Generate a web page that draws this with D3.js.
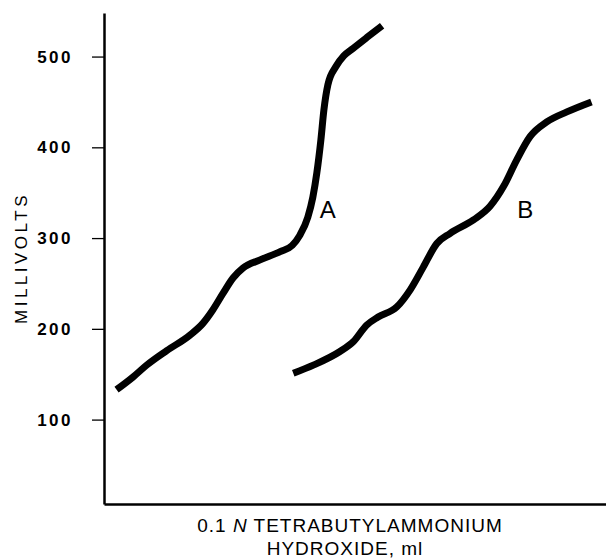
<!DOCTYPE html>
<html lang="en">
<head>
  <meta charset="utf-8">
  <title>Titration curves</title>
  <script src="https://d3js.org/d3.v7.min.js"></script>
</head>
<body style="margin: 0; background-color: white;">
  <svg id="chart" width="606" height="559"></svg>
<script>
  // ml of titrant (arbitrary scale 0-10) and millivolts
  var curveAx = [0.25, 0.58, 0.85, 1.25, 1.71, 1.97, 2.17, 2.37, 2.57, 2.77, 3.11, 3.51, 3.75, 3.90, 4.06, 4.16, 4.24, 4.32, 4.38, 4.46, 4.62, 4.78, 4.96, 5.26, 5.54];
  var curveAmv = [133, 147, 160, 176, 193, 206, 221, 239, 256, 267, 276, 285, 292, 303, 323, 345, 372, 408, 441, 469, 489, 501, 509, 522, 534];
  var curveBx = [3.77, 4.17, 4.70, 4.97, 5.23, 5.46, 5.83, 6.10, 6.36, 6.63, 6.89, 7.36, 7.69, 7.96, 8.22, 8.49, 8.82, 9.22, 9.71];
  var curveBmv = [151, 160, 175, 186, 204, 213, 224, 243, 268, 294, 305, 320, 335, 357, 386, 412, 428, 439, 450];
  var yTicks = [100, 200, 300, 400, 500];
  var labels = [{ name: "A", x: 4.30, mv: 322 }, { name: "B", x: 8.23, mv: 322 }];

  var svg = d3.select("#chart");
  var font = "'Liberation Sans', Arial, Helvetica, sans-serif";

  var x = d3.scaleLinear().domain([0, 10]).range([104, 606]);
  var y = d3.scaleLinear().domain([7, 548]).range([504, 13]);

  // y axis, ticks on the left
  var yAxis = svg.append("g")
    .attr("transform", "translate(" + x(0) + ",0)")
    .call(d3.axisLeft(y).tickValues(yTicks).tickSize(12).tickPadding(19).tickSizeOuter(0));
  yAxis.select(".domain").attr("stroke", "#000").attr("stroke-width", 2.5);
  yAxis.selectAll(".tick line").attr("stroke", "#000").attr("stroke-width", 1.3);
  yAxis.selectAll(".tick text")
    .attr("fill", "#000")
    .style("font-family", font)
    .style("font-size", "17px")
    .style("font-weight", "bold")
    .style("letter-spacing", "2.5px");

  // x axis, no ticks
  var xAxis = svg.append("g")
    .attr("transform", "translate(0," + y(7) + ")")
    .call(d3.axisBottom(x).tickValues([]).tickSizeOuter(0));
  xAxis.select(".domain").attr("stroke", "#000").attr("stroke-width", 2.5);

  svg.append("text")
    .attr("transform", "translate(27,258) rotate(-90)")
    .attr("text-anchor", "middle")
    .style("font-family", font)
    .style("font-size", "17px")
    .style("letter-spacing", "3.5px")
    .text("MILLIVOLTS");

  var xlab = svg.append("text")
    .attr("x", 350)
    .attr("y", 532)
    .attr("text-anchor", "middle")
    .style("font-family", font)
    .style("font-size", "19px")
    .style("letter-spacing", "1px");
  xlab.append("tspan").text("0.1 ");
  xlab.append("tspan").style("font-style", "italic").text("N");
  xlab.append("tspan").text(" TETRABUTYLAMMONIUM");

  svg.append("text")
    .attr("x", 345)
    .attr("y", 555)
    .attr("text-anchor", "middle")
    .style("font-family", font)
    .style("font-size", "19px")
    .style("letter-spacing", "1px")
    .text("HYDROXIDE, ml");

  var line = d3.line()
    .x(function(d) { return x(d[0]); })
    .y(function(d) { return y(d[1]); })
    .curve(d3.curveMonotoneX);

  var series = [d3.zip(curveAx, curveAmv), d3.zip(curveBx, curveBmv)];

  svg.selectAll(".curve")
    .data(series)
    .enter().append("path")
    .attr("class", "curve")
    .attr("d", line)
    .attr("fill", "none")
    .attr("stroke", "#000")
    .attr("stroke-width", 7);

  svg.selectAll(".lbl")
    .data(labels)
    .enter().append("text")
    .attr("class", "lbl")
    .attr("x", function(d) { return x(d.x); })
    .attr("y", function(d) { return y(d.mv); })
    .style("font-family", font)
    .style("font-size", "24px")
    .text(function(d) { return d.name; });
</script>
</body>
</html>
